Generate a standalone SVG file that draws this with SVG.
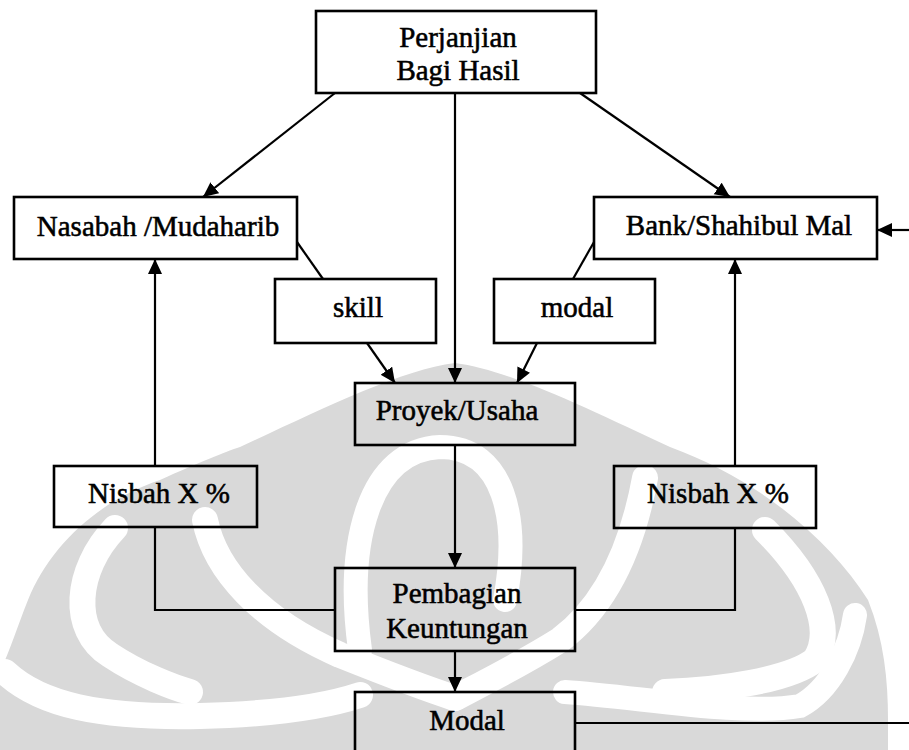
<svg xmlns="http://www.w3.org/2000/svg" width="909" height="750" viewBox="0 0 909 750">
<style>
.box{fill:none;stroke:#000;stroke-width:2.6}
.ln{fill:none;stroke:#000;stroke-width:2.2}
.t{font-family:"Liberation Serif","Times New Roman",serif;font-size:29px;fill:#000;stroke:#000;stroke-width:0.55;text-anchor:middle}
.wm{fill:#d9d9d9}
.wb{fill:none;stroke:#fff;stroke-linecap:round}
</style>
<defs>
<marker id="ah" markerUnits="userSpaceOnUse" markerWidth="16" markerHeight="16" refX="15" refY="7" orient="auto">
<path d="M0,0 L15,7 L0,14 Z" fill="#000"/>
</marker>
</defs>
<rect width="909" height="750" fill="#fff"/>
<g id="watermark">
<path class="wm" d="M0,750 L0,672 C10,650 18,625 28,600 C50,545 100,500 160,480 C200,462 225,452 240,447 C320,410 400,370 455,363 C510,370 590,410 670,447 C760,480 830,540 868,600 C884,640 888,680 888,720 L888,750 Z"/>
<path class="wb" stroke-width="26" d="M115,528 C75,570 70,630 110,655 C140,675 175,688 190,692"/>
<path class="wb" stroke-width="26" d="M5,672 C40,705 100,718 200,716 C280,714 330,705 360,695"/>
<path class="wb" stroke-width="26" d="M205,520 C215,570 260,620 340,655 C390,675 430,690 455,698"/>
<path class="wb" stroke-width="24" d="M360,650 C345,540 370,450 440,447 C505,447 520,520 505,600"/>
<path class="wb" stroke-width="26" d="M645,478 C630,560 600,610 560,640 C520,665 480,685 455,698"/>
<path class="wb" stroke-width="26" d="M765,530 C815,580 835,630 815,660 C790,680 720,690 665,692"/>
<path class="wb" stroke-width="24" d="M565,692 C640,697 740,716 800,706 C830,690 850,650 855,615"/>
</g>
<g id="connectors">
<line class="ln" x1="455" y1="93" x2="455" y2="383" marker-end="url(#ah)"/>
<line class="ln" x1="335" y1="93" x2="203" y2="197" marker-end="url(#ah)"/>
<line class="ln" x1="580" y1="93" x2="730" y2="197" marker-end="url(#ah)"/>
<line class="ln" x1="297" y1="242" x2="323" y2="279"/>
<line class="ln" x1="367" y1="343" x2="395" y2="383" marker-end="url(#ah)"/>
<line class="ln" x1="594" y1="242" x2="573" y2="279"/>
<line class="ln" x1="537" y1="343" x2="517" y2="383" marker-end="url(#ah)"/>
<line class="ln" x1="455" y1="445" x2="455" y2="568" marker-end="url(#ah)"/>
<line class="ln" x1="455" y1="651" x2="455" y2="692" marker-end="url(#ah)"/>
<polyline class="ln" points="335,610 155,610 155,527"/>
<line class="ln" x1="155" y1="466" x2="155" y2="259" marker-end="url(#ah)"/>
<polyline class="ln" points="575,610 735,610 735,528"/>
<line class="ln" x1="735" y1="466" x2="735" y2="259" marker-end="url(#ah)"/>
<line class="ln" x1="575" y1="723" x2="909" y2="723"/>
<line class="ln" x1="909" y1="230" x2="877" y2="230" marker-end="url(#ah)"/>
</g>
<g id="perjanjian">
<rect class="box" x="316" y="11" width="280" height="82"/>
<text class="t" x="458" y="47">Perjanjian</text>
<text class="t" x="458" y="80">Bagi Hasil</text>
</g>
<g id="nasabah">
<rect class="box" x="14" y="197" width="283" height="62"/>
<text class="t" x="158" y="236">Nasabah /Mudaharib</text>
</g>
<g id="bank">
<rect class="box" x="594" y="197" width="283" height="62"/>
<text class="t" x="739" y="235">Bank/Shahibul Mal</text>
</g>
<g id="skill">
<rect class="box" x="275" y="279" width="161" height="64"/>
<text class="t" x="358" y="317">skill</text>
</g>
<g id="modal_input">
<rect class="box" x="494" y="279" width="161" height="64"/>
<text class="t" x="577" y="317">modal</text>
</g>
<g id="proyek">
<rect class="box" x="355" y="383" width="220" height="62"/>
<text class="t" x="457" y="420">Proyek/Usaha</text>
</g>
<g id="nisbah_left">
<rect class="box" x="54" y="466" width="203" height="61"/>
<text class="t" x="159" y="503">Nisbah X %</text>
</g>
<g id="nisbah_right">
<rect class="box" x="614" y="466" width="202" height="62"/>
<text class="t" x="718" y="503">Nisbah X %</text>
</g>
<g id="pembagian">
<rect class="box" x="335" y="568" width="240" height="83"/>
<text class="t" x="457" y="603">Pembagian</text>
<text class="t" x="457" y="638">Keuntungan</text>
</g>
<g id="modal">
<rect class="box" x="355" y="692" width="220" height="90"/>
<text class="t" x="467" y="730">Modal</text>
</g>
</svg>
